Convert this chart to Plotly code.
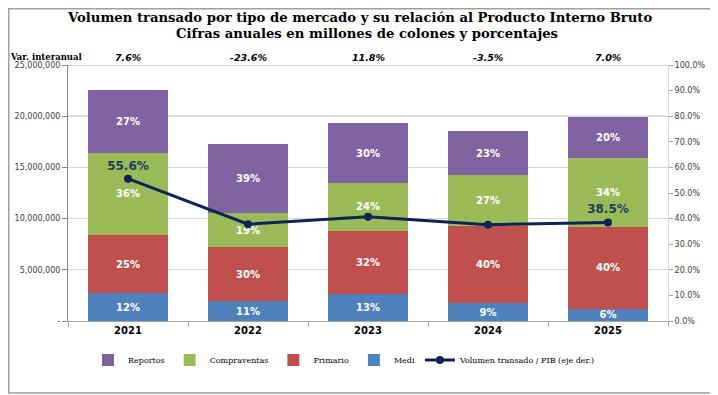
import plotly.graph_objects as go

years = ["2021", "2022", "2023", "2024", "2025"]
medi = [2700000, 1950000, 2600000, 1750000, 1200000]
primario = [5700000, 5250000, 6200000, 7500000, 8000000]
compraventas = [8040000, 3300000, 4700000, 5000000, 6700000]
reportos = [6120000, 6780000, 5800000, 4300000, 4000000]
vol_pib = [55.6, 37.8, 40.7, 37.6, 38.5]
vol_pib_labels = ["55.6%", "", "", "", "38.5%"]
var_interanual = ["7.6%", "-23.6%", "11.8%", "-3.5%", "7.0%"]
left_ticks = [0, 5000000, 10000000, 15000000, 20000000, 25000000]
left_ticktext = ["-", "5,000,000", "10,000,000", "15,000,000", "20,000,000", "25,000,000"]
title_lines = [
    "Volumen transado por tipo de mercado y su relación al Producto Interno Bruto",
    "Cifras anuales en millones de colones y porcentajes",
]

totals = [a + b + c + d for a, b, c, d in zip(medi, primario, compraventas, reportos)]

def shares(vals):
    return [f"{v / t * 100:.0f}%" for v, t in zip(vals, totals)]

# page offset of the figure inside the browser page (default body margin)
OFF = 8
W, H = 718 - OFF, 395 - OFF
# plot area in page pixels: x 68..668, y 65..321
L = 68 - OFF
R = W - (668 - OFF)
T = 65 - OFF
B = H - (321 - OFF)
pw, ph = W - L - R, H - T - B

def px(x):  # page pixel -> paper
    return (x - OFF - L) / pw

def py(y):  # page pixel -> paper
    return (H - B - (y - OFF)) / ph

fig = go.Figure()
bar_font = dict(color="white", size=10, family="DejaVu Sans", weight="bold")
series = [
    ("Medi", medi, "#4F81BD", 4),
    ("Primario", primario, "#C0504D", 3),
    ("Compraventas", compraventas, "#9BBB59", 2),
    ("Reportos", reportos, "#8064A2", 1),
]
for name, vals, color, rank in series:
    fig.add_trace(go.Bar(
        x=years, y=vals, name=name, marker=dict(color=color, line=dict(width=0)),
        text=shares(vals), textposition="inside", insidetextanchor="middle",
        textangle=0, textfont=bar_font, legendrank=rank, cliponaxis=False,
    ))

fig.add_trace(go.Scatter(
    x=years, y=vol_pib, name="Volumen transado / PIB (eje der.)", yaxis="y2",
    mode="lines+markers+text", text=vol_pib_labels, textposition="top center",
    textfont=dict(color="#1F3D5C", size=12, family="DejaVu Sans", weight="bold"),
    line=dict(color="#0C2456", width=3), marker=dict(color="#0C2456", size=8),
    legendrank=5,
))

annotations = [dict(
    text="Var. interanual", xref="paper", yref="paper", x=px(8), y=py(57),
    xanchor="left", yanchor="middle", showarrow=False,
    font=dict(family="DejaVu Serif", size=8.5, color="black", weight="bold"),
)]
for i, v in enumerate(var_interanual):
    annotations.append(dict(
        text=f"<i>{v}</i>", xref="x", yref="paper", x=i, y=py(57),
        xanchor="center", yanchor="middle", showarrow=False,
        font=dict(family="DejaVu Sans", size=9.5, color="black", weight="bold"),
    ))
for line_text, xx, yy in zip(title_lines, [359, 367], [17, 33]):
    annotations.append(dict(
        text=f"<b>{line_text}</b>", xref="paper", yref="paper", x=px(xx), y=py(yy),
        xanchor="center", yanchor="middle", showarrow=False,
        font=dict(family="DejaVu Serif", size=13.2, color="black"),
    ))

shapes = [
    dict(type="line", xref="paper", yref="y", x0=0, x1=1, y0=20000000, y1=20000000,
         line=dict(color="#A6A6A6", width=1), layer="below"),
    dict(type="line", xref="paper", yref="y", x0=0, x1=1, y0=25000000, y1=25000000,
         line=dict(color="#A6A6A6", width=1), layer="below"),
    dict(type="rect", xref="paper", yref="paper", x0=px(OFF + 0.75), x1=px(716), y0=py(393), y1=py(OFF + 0.75),
         line=dict(color="#A0A0A0", width=1.5)),
]

fig.update_layout(
    width=W, height=H, margin=dict(l=L, r=R, t=T, b=B, autoexpand=False),
    paper_bgcolor="white", plot_bgcolor="white",
    barmode="stack", bargap=0.34,
    uniformtext=dict(minsize=10, mode="show"),
    xaxis=dict(
        type="category", showline=True, linecolor="#A6A6A6", ticks="outside",
        tickson="boundaries", ticklen=5, tickcolor="#A6A6A6",
        tickfont=dict(family="DejaVu Sans", size=10, color="black", weight="bold"),
        showgrid=False, range=[-0.5, 4.5], automargin=False,
    ),
    yaxis=dict(
        range=[0, 25000000], tickvals=left_ticks, ticktext=left_ticktext,
        showline=True, linecolor="#868686", ticks="outside", ticklen=5, tickcolor="#868686",
        showgrid=True, gridcolor="#D9D9D9", gridwidth=1, zeroline=False,
        tickfont=dict(family="DejaVu Sans", size=8, color="#404040"), automargin=False,
    ),
    yaxis2=dict(
        overlaying="y", side="right", range=[0, 100], dtick=10,
        tickformat=".1f", ticksuffix="%", showgrid=False, zeroline=False,
        showline=True, linecolor="#D9D9D9", ticks="outside", ticklen=4, tickcolor="#A6A6A6",
        tickfont=dict(family="DejaVu Sans", size=8, color="#404040"), automargin=False,
    ),
    legend=dict(
        orientation="h", x=px(88), y=py(360), xanchor="left", yanchor="middle",
        font=dict(family="DejaVu Serif", size=8, color="black"),
        traceorder="normal", itemwidth=30, bgcolor="rgba(0,0,0,0)",
    ),
    annotations=annotations, shapes=shapes, showlegend=True,
)

fig.write_html("out.html")
